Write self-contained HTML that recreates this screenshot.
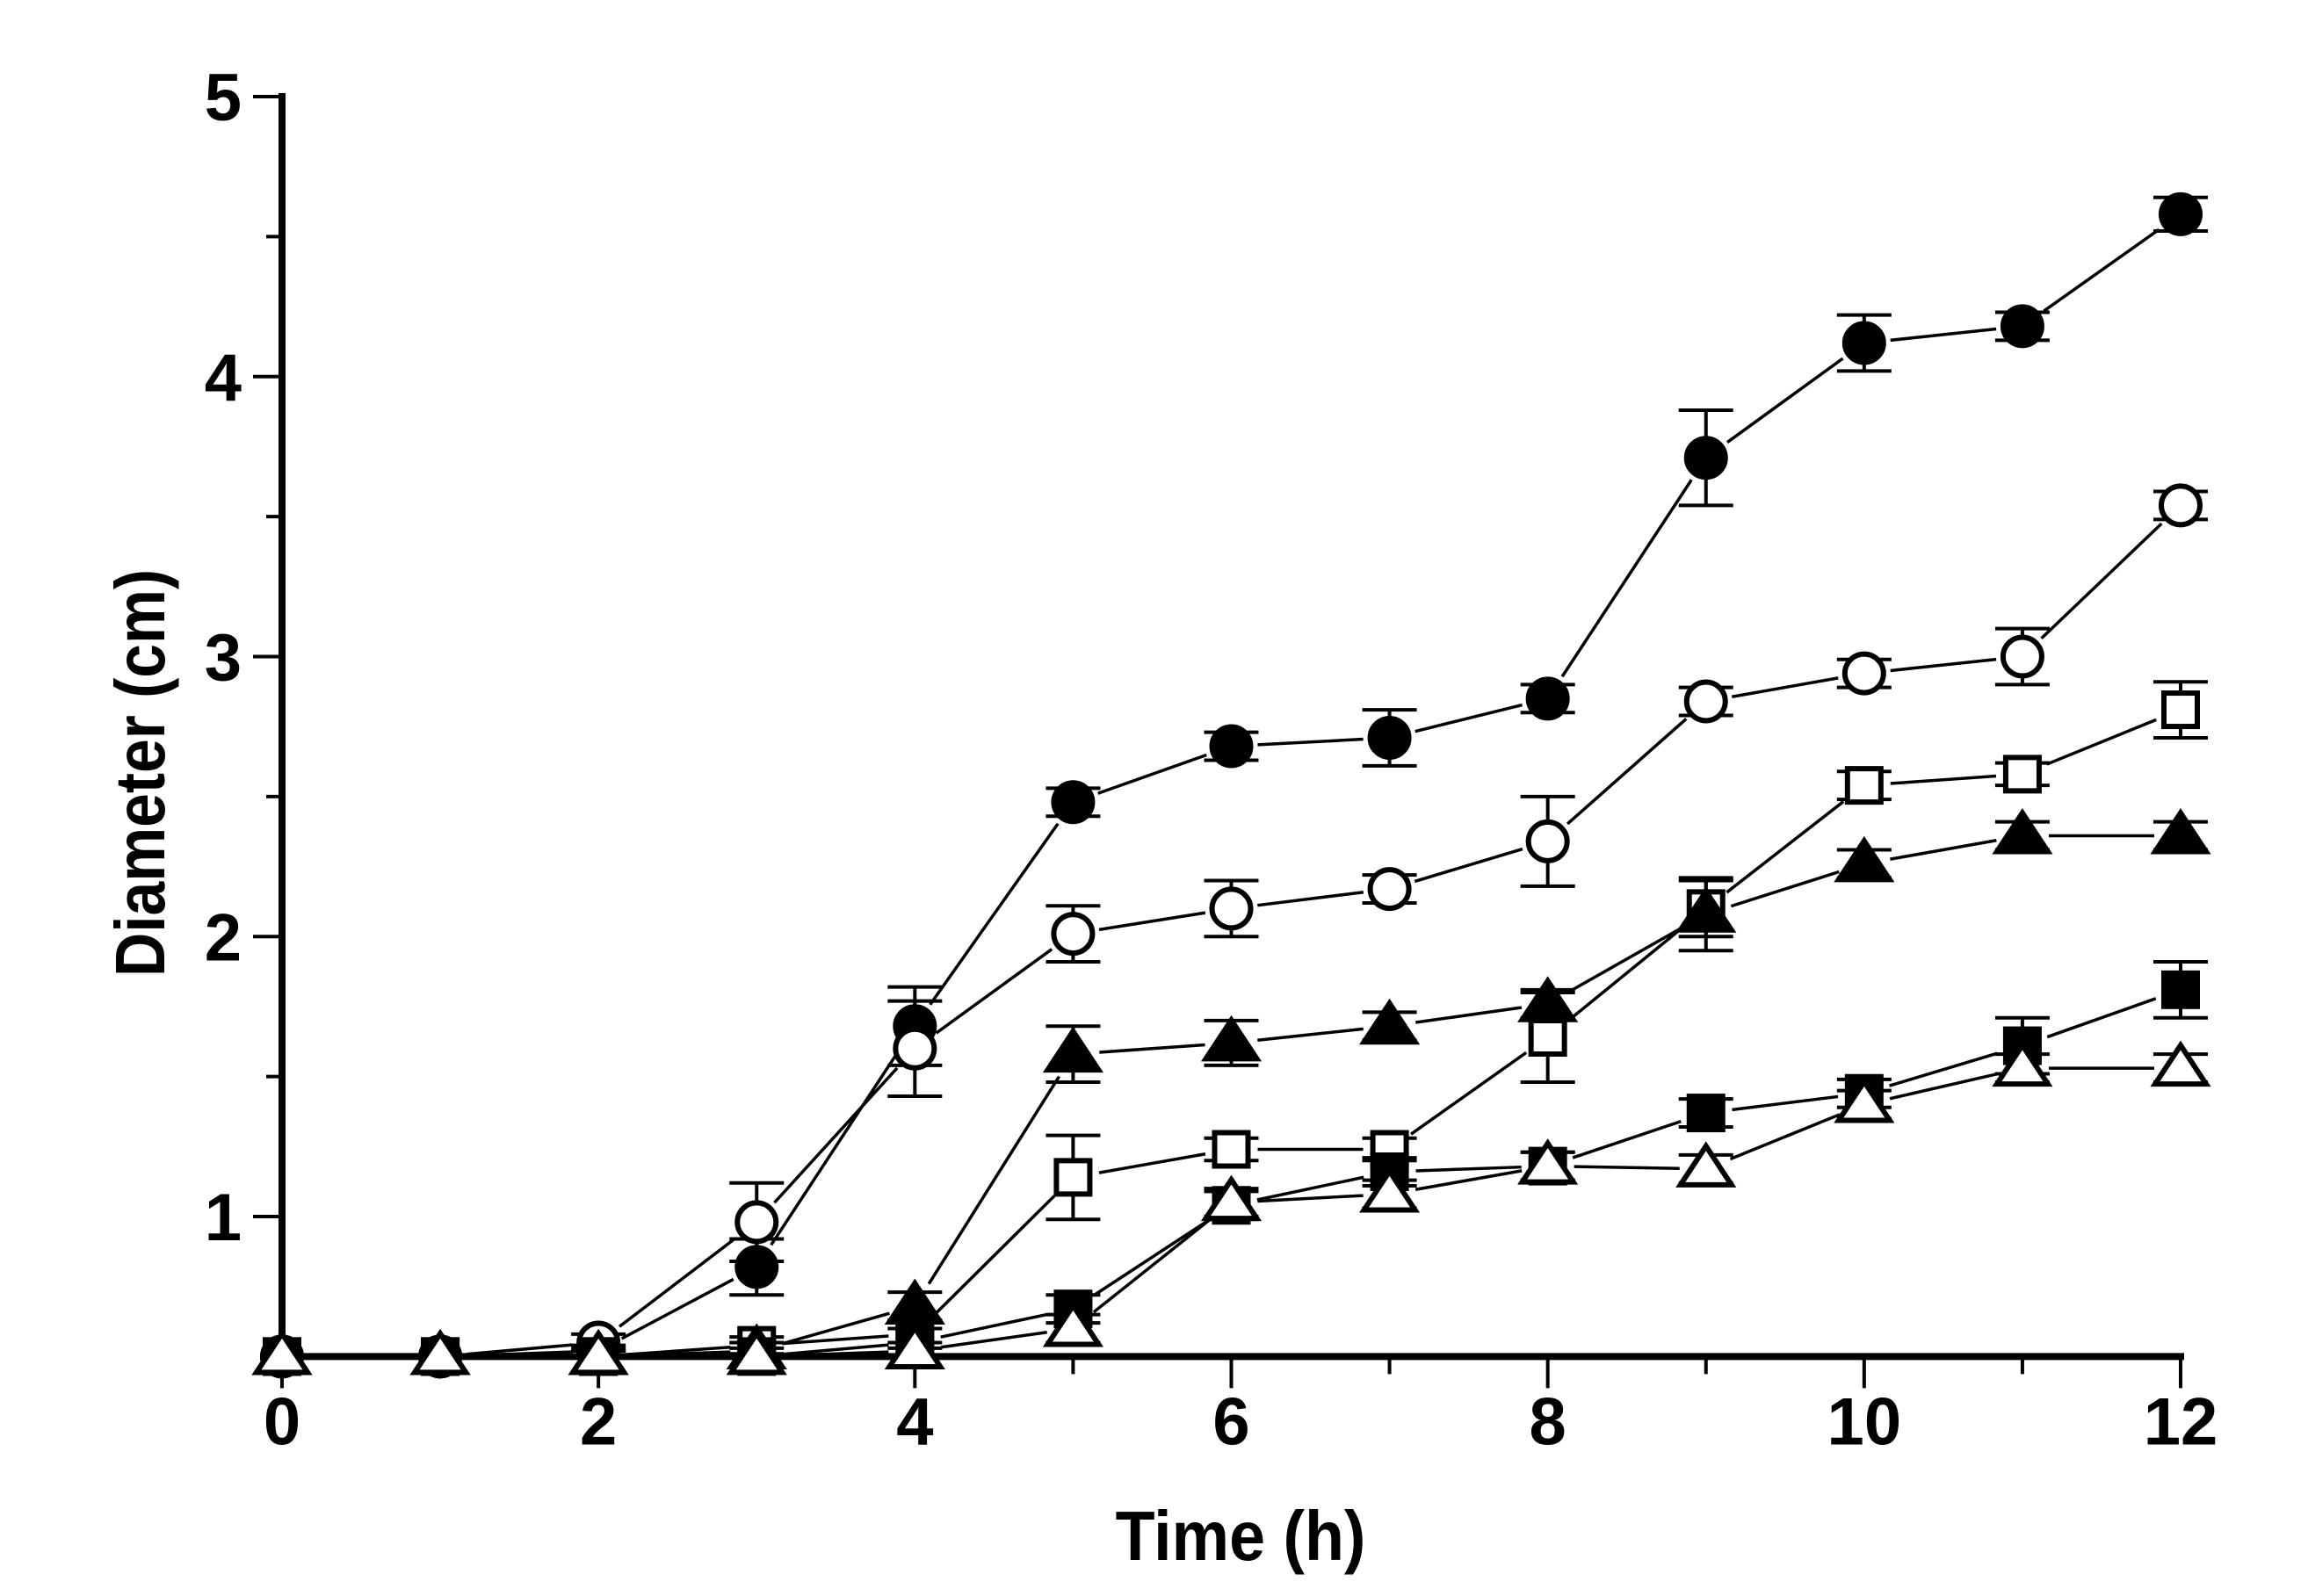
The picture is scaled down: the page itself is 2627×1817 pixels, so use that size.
<!DOCTYPE html>
<html><head><meta charset="utf-8"><style>
html,body{margin:0;padding:0;background:#fff;}
svg{display:block;}
text{font-family:"Liberation Sans",Arial,sans-serif;font-weight:bold;fill:#000;}
</style></head><body>
<svg id="chart" width="2627" height="1817" viewBox="0 0 2627 1817" xmlns="http://www.w3.org/2000/svg">
<g id="axes"></g>
<g id="series"></g>
<text x="1412" y="1776" font-size="80" text-anchor="middle" transform="translate(1412 0) scale(0.92 1) translate(-1412 0)">Time (h)</text>
<text x="0" y="0" font-size="80" text-anchor="middle" transform="translate(187 880) rotate(-90) scale(0.87 1)">Diameter (cm)</text>
</svg>
<script>
const hours = [0,1,2,3,4,5,6,7,8,9,10,11,12];
const xTicks = [0,2,4,6,8,10,12];
const yTicks = [1,2,3,4,5];
const filledCircle = [0.5,0.5,0.52,0.82,1.68,2.48,2.68,2.71,2.85,3.71,4.12,4.18,4.58];
const filledCircleErr = [0,0,0.02,0.1,0.14,0.05,0.05,0.1,0.05,0.17,0.1,0.05,0.06];
const openCircle = [0.5,0.5,0.55,0.98,1.6,2.01,2.1,2.17,2.34,2.84,2.94,3.0,3.54];
const openCircleErr = [0,0,0.03,0.14,0.17,0.1,0.1,0.05,0.16,0.05,0.05,0.1,0.05];
const openSquare = [0.5,0.5,0.5,0.54,0.58,1.14,1.24,1.24,1.64,2.1,2.54,2.58,2.81];
const openSquareErr = [0,0,0.02,0.03,0.05,0.15,0.04,0.04,0.16,0.1,0.05,0.04,0.1];
const filledTriangle = [0.5,0.5,0.5,0.52,0.68,1.58,1.62,1.68,1.76,2.08,2.26,2.36,2.36];
const filledTriangleErr = [0,0,0,0.03,0.05,0.1,0.08,0.05,0.05,0.13,0.05,0.05,0.05];
const filledSquare = [0.5,0.5,0.5,0.5,0.55,0.67,1.04,1.16,1.18,1.37,1.44,1.61,1.81];
const filledSquareErr = [0,0,0.03,0.03,0.05,0.05,0.05,0.05,0.05,0.05,0.05,0.1,0.1];
const openTriangle = [0.5,0.5,0.5,0.5,0.52,0.6,1.05,1.08,1.18,1.17,1.4,1.53,1.53];
const openTriangleErr = [0,0,0,0,0.03,0.05,0.05,0.05,0.05,0.05,0.05,0.05,0.05];

const NS='http://www.w3.org/2000/svg';
const X0=321, X1=2482, Y5=110, Y1=1385, YMIN=0.5;
function xs(h){return X0+(X1-X0)*h/12;}
function ys(v){return Y1-(Y1-Y5)*(v-1)/4;}
function el(tag,attrs,parent){const e=document.createElementNS(NS,tag);for(const k in attrs)e.setAttribute(k,attrs[k]);parent.appendChild(e);return e;}
const axes=document.getElementById('axes');
const yBottom=ys(YMIN);
let a=el('line',{x1:X0,y1:Y5-4,x2:X0,y2:yBottom+4,stroke:'#000','stroke-width':8},axes);


a=el('line',{x1:X0-4,y1:yBottom,x2:X1+4,y2:yBottom,stroke:'#000','stroke-width':8},axes);


for(let v=1;v<=5;v+=0.5){
  const major=Number.isInteger(v);
  const t=el('line',{x1:X0-(major?33:18),y1:ys(v),x2:X0,y2:ys(v),stroke:'#000','stroke-width':4},axes);
  
  
}
yTicks.forEach(v=>{
  const t=el('text',{x:X0-46,y:ys(v)+27,'font-size':76,'text-anchor':'end'},axes);
  t.textContent=v;
  
  
});
for(let h=0;h<=12;h++){
  const major=h%2===0;
  const t=el('line',{x1:xs(h),y1:yBottom,x2:xs(h),y2:yBottom+(major?36:20),stroke:'#000','stroke-width':4},axes);
  
  
}
xTicks.forEach(h=>{
  const t=el('text',{x:xs(h),y:yBottom+100,'font-size':76,'text-anchor':'middle'},axes);
  t.textContent=h;
  
  
});

const series=[
 {name:'filled-circle',vals:filledCircle,err:filledCircleErr,shape:'circle',fill:true},
 {name:'open-circle',vals:openCircle,err:openCircleErr,shape:'circle',fill:false},
 {name:'open-square',vals:openSquare,err:openSquareErr,shape:'square',fill:false},
 {name:'filled-triangle',vals:filledTriangle,err:filledTriangleErr,shape:'triangle',fill:true},
 {name:'filled-square',vals:filledSquare,err:filledSquareErr,shape:'square',fill:true},
 {name:'open-triangle',vals:openTriangle,err:openTriangleErr,shape:'triangle',fill:false}
];
const sg=document.getElementById('series');
series.forEach(s=>{
  const g=el('g',{},sg);
  
  
  const gap=30;
  for(let i=0;i<hours.length-1;i++){
    const x1=xs(hours[i]),y1=ys(s.vals[i]),x2=xs(hours[i+1]),y2=ys(s.vals[i+1]);
    const dx=x2-x1,dy=y2-y1,L=Math.hypot(dx,dy);
    if(L<2*gap)continue;
    const ux=dx/L,uy=dy/L;
    const ln=el('line',{x1:x1+ux*gap,y1:y1+uy*gap,x2:x2-ux*gap,y2:y2-uy*gap,stroke:'#000','stroke-width':3.5},g);
    
    
  }
  hours.forEach((h,i)=>{
    const x=xs(h),y=ys(s.vals[i]),e=s.err[i];
    if(e>0){
      const yt=ys(s.vals[i]+e),yb=Math.min(ys(s.vals[i]-e),yBottom);
      const eb=el('path',{d:`M${x},${yt}V${yb}M${x-31},${yt}H${x+31}M${x-31},${yb}H${x+31}`,stroke:'#000','stroke-width':4,fill:'none'},g);
      
      
    }
    let m;
    const st={stroke:'#000','stroke-width':6,fill:s.fill?'#000':'#fff'};
    if(s.shape==='circle') m=el('circle',Object.assign({cx:x,cy:y,r:22},st),g);
    else if(s.shape==='square') m=el('rect',Object.assign({x:x-19,y:y-19,width:38,height:38},st),g);
    else m=el('path',Object.assign({d:`M${x},${y-26}L${x+29},${y+18}L${x-29},${y+18}Z`,'stroke-linejoin':'miter'},st),g);
    
    
  });
});
</script>
</body></html>
